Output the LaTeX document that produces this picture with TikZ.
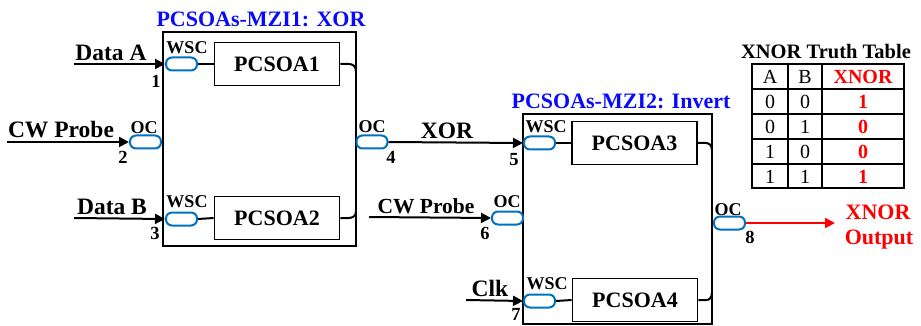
\documentclass[tikz,border=0pt]{standalone}
\usepackage{fontspec}
\setmainfont{Liberation Serif}
\usetikzlibrary{arrows.meta}
\definecolor{cplblue}{RGB}{0,112,192}
\definecolor{ttlblue}{RGB}{10,10,250}
\definecolor{outred}{RGB}{255,0,0}
\tikzset{
  mzi/.style={draw=black,line width=2pt,inner sep=0pt},
  soa/.style={draw=black,line width=1.8pt,minimum width=125pt,minimum height=43pt,inner sep=0pt,font=\fontsize{22}{24}\selectfont\bfseries},
  cpl/.style={draw=cplblue,line width=2pt,rounded corners=6pt,minimum width=31pt,minimum height=13pt,inner sep=0pt},
  wire/.style={draw=black,line width=2pt},
  arr/.style={wire,-{Triangle[length=10pt,width=10pt]}},
  big/.style={font=\fontsize{23.5}{26}\selectfont\bfseries,inner sep=0pt},
  small/.style={font=\fontsize{18}{20}\selectfont\bfseries,inner sep=0pt},
  num/.style={font=\fontsize{18.5}{20}\selectfont\bfseries,inner sep=0pt},
  ttl/.style={font=\fontsize{22}{24}\selectfont\bfseries,text=ttlblue,inner sep=0pt},
  cell/.style={font=\fontsize{20}{22}\selectfont,inner sep=0pt},
  rcell/.style={font=\fontsize{20}{22}\selectfont\bfseries,text=outred,inner sep=0pt},
  grid/.style={draw=black,line width=1.3pt}
}
\begin{document}
\begin{tikzpicture}[x=1pt,y=-1pt]
\useasboundingbox (0,0) rectangle (921,326);
% MZI boxes
\node[mzi,minimum width=193pt,minimum height=214pt] (mzi1) at (259.5,139) {};
\node[mzi,minimum width=189pt,minimum height=210pt] (mzi2) at (617.5,219) {};
\node[ttl] (t1) at (261,19) {PCSOAs-MZI1: XOR};
\node[ttl] (t2) at (621,101) {PCSOAs-MZI2: Invert};
% SOAs
\node[soa] (p1) at (277,64) {PCSOA1};
\node[soa] (p2) at (277,218) {PCSOA2};
\node[soa] (p3) at (634.5,143) {PCSOA3};
\node[soa] (p4) at (635,300) {PCSOA4};
% couplers
\node[cpl] (c1) at (181.5,64) {};
\node[cpl] (c2) at (145.5,142) {};
\node[cpl] (c3) at (181.5,219) {};
\node[cpl] (c4) at (372,142) {};
\node[cpl] (c5) at (539.5,143) {};
\node[cpl] (c6) at (507.5,218) {};
\node[cpl] (c7) at (539.5,301) {};
\node[cpl] (c8) at (729.5,223) {};
% coupler to SOA
\draw[wire] (c1.east) -- (p1.west);
\draw[wire] (c3.east) -- (p2.west);
\draw[wire] (c5.east) -- (p3.west);
\draw[wire] (c7.east) -- (p4.west);
% SOA outputs bending into the box wall
\coordinate (w1) at (356,72);
\coordinate (w2) at (356,211);
\coordinate (w3) at (712,151);
\coordinate (w4) at (712,292);
\draw[wire] (p1.east) -- ++(8,0) .. controls (353,64) and (356,66) .. (w1);
\draw[wire] (p2.east) -- ++(8,0) .. controls (353,218) and (356,216) .. (w2);
\draw[wire] (p3.east) -- ++(8,0) .. controls (709,143) and (712,145) .. (w3);
\draw[wire] (p4.east) -- ++(8,0) .. controls (709,300) and (712,298) .. (w4);
% inputs
\coordinate (sA) at (74,64);
\coordinate (sP1) at (7,142);
\coordinate (sB) at (74,218);
\coordinate (sP2) at (369,217);
\coordinate (sC) at (466,300);
\draw[arr] (sA) -- (c1.west);
\draw[arr] (sP1) -- (c2.west);
\draw[arr] (sB) -- (c3.west);
\draw[arr] (c4.east) -- (c5.west);
\draw[arr] (sP2) -- (c6.west);
\draw[arr] (sC) -- (c7.west);
\coordinate (oX) at (835,223);
\draw[wire,draw=outred,-{Triangle[length=10pt,width=10pt]}] (c8.east) -- (oX);
% labels
\node[big,anchor=base] (lA) at (111,61) {Data A};
\node[big,anchor=base] (lP1) at (61,138) {CW Probe};
\node[big,anchor=base] (lB) at (112,214) {Data B};
\node[big,anchor=base] (lX) at (447,139) {XOR};
\node[font=\fontsize{21.5}{24}\selectfont\bfseries,inner sep=0pt,anchor=base] (lP2) at (426,213) {CW Probe};
\node[big,anchor=base] (lC) at (490,296) {Clk};
\node[small] (k1) at (187,48) {WSC};
\node[small] (k2) at (144,128) {OC};
\node[small] (k3) at (187,202) {WSC};
\node[small] (k4) at (372,127) {OC};
\node[small] (k5) at (546,127) {WSC};
\node[small] (k6) at (507,202) {OC};
\node[small] (k7) at (547,284) {WSC};
\node[small] (k8) at (728,210) {OC};
\node[num] (n1) at (156,81) {1};
\node[num] (n2) at (123,157) {2};
\node[num] (n3) at (155,233) {3};
\node[num] (n4) at (391,157) {4};
\node[num] (n5) at (514,160) {5};
\node[num] (n6) at (485,233) {6};
\node[num] (n7) at (516,314) {7};
\node[num] (n8) at (750,237) {8};
\node[font=\fontsize{22}{24}\selectfont\bfseries,text=outred,inner sep=0pt] (o1) at (878,212) {XNOR};
\node[font=\fontsize{22}{24}\selectfont\bfseries,text=outred,inner sep=0pt] (o2) at (879,240) {Output};
% truth table
\node[font=\fontsize{20.5}{22}\selectfont\bfseries,inner sep=0pt] (tt) at (826,52) {XNOR Truth Table};
\draw[grid] (752,64) rectangle (904,188);
\draw[grid] (788,64) -- (788,188) (822,64) -- (822,188);
\foreach \yy in {89,114,139,164} \draw[grid] (752,\yy) -- (904,\yy);
\node[cell] (hA) at (770,77) {A};
\node[cell] (hB) at (805,77) {B};
\node[rcell] (hX) at (863,77) {XNOR};
\node[cell] (a1) at (770,102) {0}; \node[cell] (b1) at (805,102) {0}; \node[rcell] (x1) at (863,102) {1};
\node[cell] (a2) at (770,127) {0}; \node[cell] (b2) at (805,127) {1}; \node[rcell] (x2) at (863,127) {0};
\node[cell] (a3) at (770,152) {1}; \node[cell] (b3) at (805,152) {0}; \node[rcell] (x3) at (863,152) {0};
\node[cell] (a4) at (770,177) {1}; \node[cell] (b4) at (805,177) {1}; \node[rcell] (x4) at (863,177) {1};
\end{tikzpicture}
\end{document}
